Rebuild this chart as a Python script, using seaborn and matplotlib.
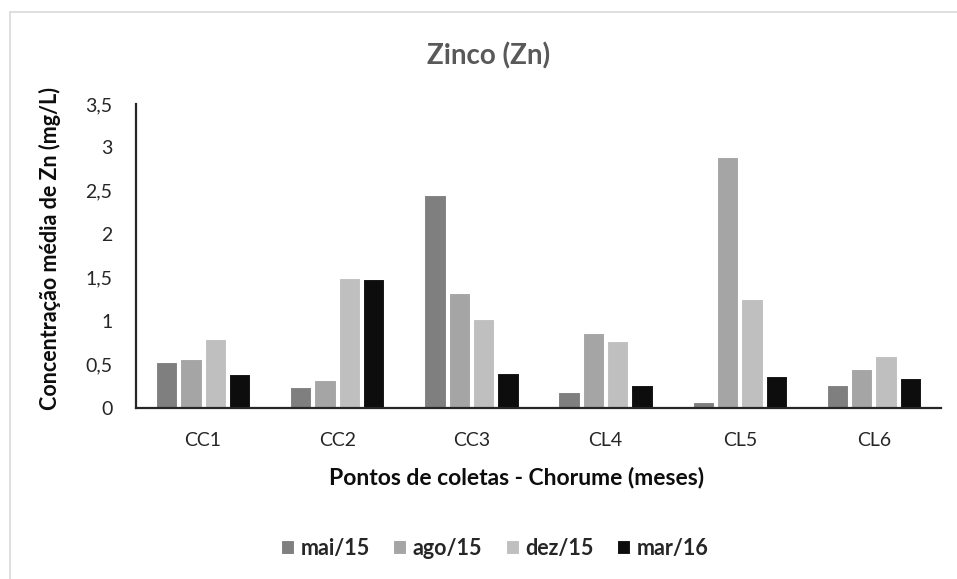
import matplotlib
matplotlib.use("Agg")
import matplotlib.pyplot as plt
from matplotlib.lines import Line2D
from matplotlib.ticker import FuncFormatter
import seaborn as sns
import pandas as pd

# Zinc concentration per leachate sampling point and campaign
points = ["CC1", "CC2", "CC3", "CL4", "CL5", "CL6"]
months = ["mai/15", "ago/15", "dez/15", "mar/16"]
mai15 = [0.53, 0.24, 2.45, 0.18, 0.07, 0.27]
ago15 = [0.56, 0.32, 1.32, 0.86, 2.89, 0.45]
dez15 = [0.79, 1.50, 1.02, 0.77, 1.25, 0.60]
mar16 = [0.39, 1.48, 0.40, 0.26, 0.37, 0.35]
colors = ["#7f7f7f", "#a5a5a5", "#bfbfbf", "#0d0d0d"]

df = pd.DataFrame({
    "ponto": points * 4,
    "mes": [m for m in months for _ in points],
    "zn": mai15 + ago15 + dez15 + mar16,
})

sns.set_theme(style="white")
plt.rcParams["font.family"] = ["Lato", "DejaVu Sans"]

fig = plt.figure(figsize=(9.57, 5.79), dpi=100)
ax = fig.add_axes([0.1421, 0.2953, 0.8412, 0.5251])

sns.barplot(data=df, x="ponto", y="zn", hue="mes", order=points,
            hue_order=months, palette=colors, width=0.725, gap=0.12,
            edgecolor="white", linewidth=0.8, saturation=1,
            errorbar=None, ax=ax)

ax.set_ylim(0, 3.5)
ax.set_yticks([0, 0.5, 1, 1.5, 2, 2.5, 3, 3.5])
ax.yaxis.set_major_formatter(FuncFormatter(lambda v, _: f"{v:g}".replace(".", ",")))
ax.tick_params(axis="both", length=0, labelsize=14, colors="#262626")
ax.tick_params(axis="x", pad=17)
ax.tick_params(axis="y", pad=17)

for side in ("top", "right"):
    ax.spines[side].set_visible(False)
for side in ("left", "bottom"):
    ax.spines[side].set_color("#262626")
    ax.spines[side].set_linewidth(1.6)

fig.text(0.51, 1 - 56 / 579, "Zinco (Zn)", fontsize=20, fontweight="bold",
         color="#595959", ha="center", va="center")
ax.set_xlabel("Pontos de coletas - Chorume (meses)", fontsize=16.5,
              fontweight="bold", color="#0d0d0d")
ax.xaxis.set_label_coords(0.473, -0.227)
ax.set_ylabel("Concentração média de Zn (mg/L)", fontsize=15.5,
              fontweight="bold", color="#0d0d0d")
ax.yaxis.set_label_coords(-0.107, 0.526)
ax.xaxis.label.set_verticalalignment("center")
ax.yaxis.label.set_verticalalignment("center")

handles, labels = ax.get_legend_handles_labels()
ax.legend_.remove()
fig.legend(handles, labels, loc="center", bbox_to_anchor=(0.517, 0.0535),
           ncol=4, frameon=False, prop={"weight": "bold", "size": 15.5},
           handlelength=0.6, handleheight=0.6, handletextpad=0.3,
           columnspacing=1.1)

# light chart-area frame along the top and left edges
fig.add_artist(Line2D([9.5 / 957, 9.5 / 957], [0, 1 - 11.5 / 579],
                      transform=fig.transFigure, color="#d9d9d9", lw=1.2))
fig.add_artist(Line2D([9.5 / 957, 1], [1 - 11.5 / 579, 1 - 11.5 / 579],
                      transform=fig.transFigure, color="#d9d9d9", lw=1.2))

fig.savefig("out.png", dpi=100)
